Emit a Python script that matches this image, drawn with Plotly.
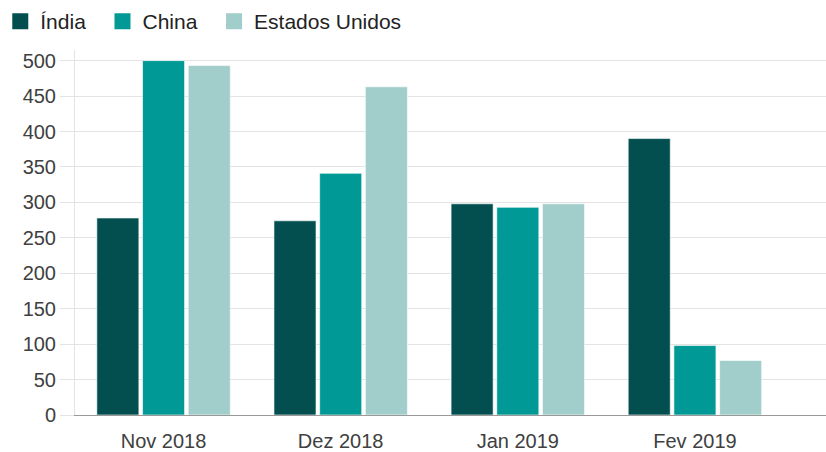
import plotly.graph_objects as go

categories = ["Nov 2018", "Dez 2018", "Jan 2019", "Fev 2019"]
india = [278, 274, 298, 390]
china = [500, 341, 293, 98]
eua = [493, 463, 298, 77]
series_names = ["Índia", "China", "Estados Unidos"]
legend_labels = ["Índia\u00a0\u00a0", "China\u00a0\u00a0", "Estados Unidos"]
colors = ["#034f50", "#009996", "#a1cdcb"]
y_ticks = [0, 50, 100, 150, 200, 250, 300, 350, 400, 450, 500]

fig = go.Figure()
for name, lab, vals, col in zip(series_names, legend_labels, [india, china, eua], colors):
    fig.add_trace(go.Bar(
        x=categories, y=vals, name=name, legendgroup=name, showlegend=False,
        marker=dict(color=col, line=dict(color="rgba(255,255,255,0.6)", width=1)),
    ))
    fig.add_trace(go.Scatter(
        x=[None], y=[None], mode="markers", name=lab, legendgroup=name,
        marker=dict(symbol="square", size=19, color=col),
    ))

fig.update_layout(
    width=826, height=452,
    margin=dict(l=75, r=0, t=50, b=37),
    paper_bgcolor="white", plot_bgcolor="white",
    barmode="group", bargap=0.226, bargroupgap=0.08,
    font=dict(family="Liberation Sans, Arial, sans-serif", size=20, color="#404040"),
    legend=dict(
        orientation="h", x=-0.0995, xanchor="left", y=1.134, yanchor="top",
        font=dict(size=21, color="#222222"), itemsizing="trace",
        traceorder="normal",
    ),
    xaxis=dict(
        type="category", range=[-0.5, 3.74], showgrid=False, automargin=False,
        showline=True, linecolor="#999999", linewidth=1,
        ticks="", ticklabelstandoff=8, tickfont=dict(size=20, color="#404040"),
    ),
    yaxis=dict(
        range=[0, 515], tickvals=y_ticks, showgrid=True, gridcolor="#e3e3e3",
        gridwidth=1, zeroline=False, showline=True, linecolor="#e3e3e3",
        automargin=False,
        ticks="outside", ticklen=14, tickcolor="#e3e3e3",
        tickfont=dict(size=20, color="#404040"),
    ),
)

fig.write_html(
    "out.html",
    config={"displayModeBar": False},
    post_script="document.body.style.margin='0px';",
)
